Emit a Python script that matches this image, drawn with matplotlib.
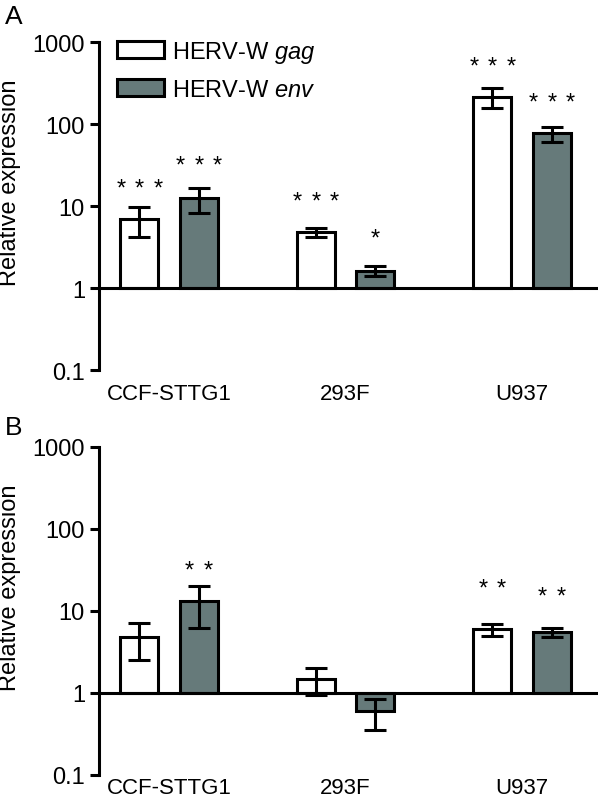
import matplotlib
matplotlib.use('Agg')
import matplotlib.pyplot as plt
import numpy as np
from matplotlib.patches import Patch
from matplotlib.ticker import FixedLocator, FixedFormatter, NullLocator

plt.rcParams['font.family'] = ['Liberation Sans', 'DejaVu Sans']
plt.rcParams['mathtext.fontset'] = 'custom'
plt.rcParams['mathtext.rm'] = 'Liberation Sans'
plt.rcParams['mathtext.it'] = 'Liberation Sans:italic'

# ---------------- data ----------------
cell_lines = ['CCF-STTG1', '293F', 'U937']
series_labels = [r'HERV-W $\mathit{gag}$', r'HERV-W $\mathit{env}$']
y_ticks = [0.1, 1, 10, 100, 1000]
y_tick_labels = ['0.1', '1', '10', '100', '1000']

A_gag_mean = [6.9, 4.8, 213]
A_gag_sd = [2.7, 0.65, 58]
A_env_mean = [12.5, 1.62, 77]
A_env_sd = [4.2, 0.22, 16]
A_gag_stars = ['***', '***', '***']
A_env_stars = ['***', '*', '***']
A_gag_star_y = [20.2, 14.0, 618]
A_env_star_y = [38.5, 4.96, 226]

B_gag_mean = [4.8, 1.48, 6.0]
B_gag_sd = [2.3, 0.53, 1.0]
B_env_mean = [13.2, 0.60, 5.5]
B_env_sd = [7.0, 0.25, 0.7]
B_gag_stars = ['', '', '**']
B_env_stars = ['**', '', '**']
B_gag_star_y = [None, None, 23.2]
B_env_star_y = [38.5, None, 18.5]

# ---------------- style ----------------
FS = 17
XFS = 16
LW = 2.2
GRAY = '#667a7a'
W = 0.215
OFF = 0.168

fig = plt.figure(figsize=(6, 8.04), dpi=100)
axA = fig.add_axes([99/600, 1-371/804, 499/600, 328/804])
axB = fig.add_axes([99/600, 1-776/804, 499/600, 328/804])


def draw_panel(ax, gm, gs, em, es, gst, est, gsy, esy, xpad):
    x = np.arange(len(cell_lines))
    ax.set_yscale('log')
    for xs, m, s, col in [(x - OFF, gm, gs, 'white'), (x + OFF, em, es, GRAY)]:
        m = np.array(m, float)
        s = np.array(s, float)
        ax.bar(xs, m - 1, bottom=1, width=W, color=col, edgecolor='black',
               linewidth=LW, zorder=2)
        ax.errorbar(xs, m, yerr=s, fmt='none', ecolor='black', elinewidth=LW,
                    capsize=8, capthick=LW, zorder=3)
    for xs, stars, sy in [(x - OFF, gst, gsy), (x + OFF, est, esy)]:
        for xi, st, yv in zip(xs, stars, sy):
            n = len(st)
            for k in range(n):
                dx = (k - (n - 1) / 2) * 13.3
                ax.annotate('*', xy=(xi, yv), xytext=(dx, -9.7),
                            textcoords='offset points', ha='center',
                            va='baseline', fontsize=FS, zorder=4)
    ax.axhline(1, color='black', lw=LW, zorder=2.5)
    ax.set_ylim(0.1, 1000)
    ax.set_xlim(-0.397, 2.43)
    ax.yaxis.set_major_locator(FixedLocator(y_ticks))
    ax.yaxis.set_major_formatter(FixedFormatter(y_tick_labels))
    ax.yaxis.set_minor_locator(NullLocator())
    ax.set_xticks(x)
    ax.set_xticklabels(cell_lines)
    for sp in ['top', 'right', 'bottom']:
        ax.spines[sp].set_visible(False)
    ax.spines['left'].set_linewidth(LW)
    ax.tick_params(axis='y', length=6.5, width=LW, pad=3.6, labelsize=FS)
    ax.tick_params(axis='x', length=0, pad=xpad, labelsize=XFS)
    ax.set_ylabel('Relative expression', fontsize=FS)
    ax.yaxis.set_label_coords(-0.156, 0.573)


draw_panel(axA, A_gag_mean, A_gag_sd, A_env_mean, A_env_sd,
           A_gag_stars, A_env_stars, A_gag_star_y, A_env_star_y, 9.5)
draw_panel(axB, B_gag_mean, B_gag_sd, B_env_mean, B_env_sd,
           B_gag_stars, B_env_stars, B_gag_star_y, B_env_star_y, 1.2)

handles = [Patch(facecolor='white', edgecolor='black', linewidth=LW),
           Patch(facecolor=GRAY, edgecolor='black', linewidth=LW)]
axA.legend(handles, series_labels, loc='upper left', frameon=False,
           bbox_to_anchor=(18/499, 1.01), borderaxespad=0, borderpad=0,
           handlelength=2.0, handleheight=0.75, handletextpad=0.35,
           labelspacing=0.6, fontsize=FS)

fig.text(5/600, 1-24/804, 'A', fontsize=19, ha='left', va='baseline')
fig.text(5/600, 1-435/804, 'B', fontsize=19, ha='left', va='baseline')

fig.savefig('out.png', dpi=100)
